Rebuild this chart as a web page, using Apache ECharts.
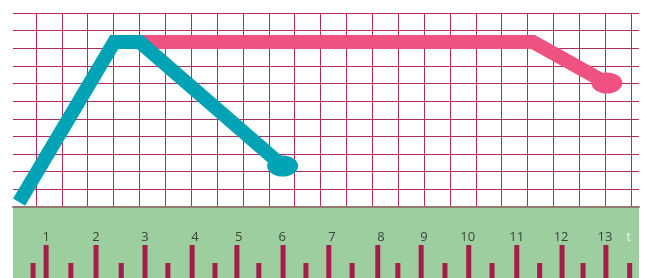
<!DOCTYPE html>
<html>
<head>
<meta charset="utf-8">
<script src="https://cdn.jsdelivr.net/npm/echarts@6/dist/echarts.min.js"></script>
<style>
  html, body { margin: 0; padding: 0; background: #fff; }
  #chart { width: 649px; height: 278px; }
</style>
</head>
<body>
<div id="chart"></div>
<script>
  'use strict'

  // time axis (t) shared by the graph and the ruler
  var tMin = 0.29, tMax = 13.71;

  // graph lines: [t, height in grid squares]
  var blueLine = [[0.42, 0.28], [2.46, 9.35], [3.01, 9.35], [6.07, 2.32]];
  var pinkLine = [[3.01, 9.35], [11.44, 9.35], [13.02, 7.03]];

  // ruler marks
  var longTicks = [1.0, 2.07, 3.12, 4.13, 5.09, 6.08, 7.06, 8.11, 9.04, 10.06, 11.09, 12.06, 13.0];
  var shortTicks = [0.72, 1.53, 2.61, 3.61, 4.62, 5.56, 6.57, 7.56, 8.54, 9.55, 10.56, 11.58, 12.51, 13.51];
  var longH = 33, shortH = 15;
  var tickLabels = ['1', '2', '3', '4', '5', '6', '7', '8', '9', '10', '11', '12', '13', 't'];
  var labelPos = [1.0, 2.07, 3.12, 4.19, 5.13, 6.06, 7.13, 8.18, 9.1, 10.04, 11.09, 12.04, 12.98, 13.49];
  var labelY = 41;

  var gridColor = '#b02c5f';

  var rulerData = longTicks.map(function (t) { return [t, longH]; })
    .concat(shortTicks.map(function (t) { return [t, shortH]; }));

  var labelData = labelPos.map(function (t, i) {
    return {
      value: [t, labelY],
      label: { formatter: tickLabels[i], color: tickLabels[i] === 't' ? '#ffffff' : '#222222' }
    };
  });

  function endSymbol(n) {
    return function (val, params) {
      return params.dataIndex === n - 1 ? [31, 21] : 0;
    };
  }

  var chart = echarts.init(document.getElementById('chart'));
  var option = {
    animation: false,
    grid: [
      { left: 13, top: 13, width: 626, height: 194 },
      { left: 36, top: 13, width: 595, height: 194 },
      { left: 13, top: 207, width: 626, height: 71, show: true, backgroundColor: '#9ccea0', borderWidth: 0 }
    ],
    xAxis: [
      {
        gridIndex: 0, type: 'value', min: tMin, max: tMax,
        axisLine: { show: true, lineStyle: { color: '#937a6c', width: 2 } },
        axisTick: { show: false }, axisLabel: { show: false }, splitLine: { show: false }
      },
      {
        gridIndex: 1, type: 'value', min: 0, max: 23, interval: 1,
        axisLine: { show: false }, axisTick: { show: false }, axisLabel: { show: false },
        splitLine: { show: true, lineStyle: { color: gridColor, width: 1 } }
      },
      {
        gridIndex: 2, type: 'value', min: tMin, max: tMax,
        axisLine: { show: false }, axisTick: { show: false }, axisLabel: { show: false }, splitLine: { show: false }
      }
    ],
    yAxis: [
      {
        gridIndex: 0, type: 'value', min: 0, max: 11, interval: 1,
        axisLine: { show: false }, axisTick: { show: false }, axisLabel: { show: false },
        splitLine: { show: true, lineStyle: { color: gridColor, width: 1 } }
      },
      {
        gridIndex: 1, type: 'value', min: 0, max: 11, show: false, splitLine: { show: false }
      },
      {
        gridIndex: 2, type: 'value', min: 0, max: 71, show: false, splitLine: { show: false }
      }
    ],
    series: [
      {
        name: 'pink', type: 'line', xAxisIndex: 0, yAxisIndex: 0,
        data: pinkLine,
        symbol: 'circle', symbolSize: endSymbol(pinkLine.length),
        itemStyle: { color: '#ef5280' },
        lineStyle: { color: '#ef5280', width: 14, join: 'miter', cap: 'butt' },
        z: 3
      },
      {
        name: 'blue', type: 'line', xAxisIndex: 0, yAxisIndex: 0,
        data: blueLine,
        symbol: 'circle', symbolSize: endSymbol(blueLine.length),
        itemStyle: { color: '#00a2b6' },
        lineStyle: { color: '#00a2b6', width: 14, join: 'miter', cap: 'butt' },
        z: 4
      },
      {
        name: 'ruler', type: 'bar', xAxisIndex: 2, yAxisIndex: 2,
        data: rulerData, barWidth: 5,
        itemStyle: { color: '#a61d4c' }
      },
      {
        name: 'labels', type: 'scatter', xAxisIndex: 2, yAxisIndex: 2,
        data: labelData, symbolSize: 0,
        label: {
          show: true, position: 'inside',
          fontFamily: 'Open Sans', fontSize: 13
        }
      }
    ]
  };
  chart.setOption(option);
</script>
</body>
</html>
